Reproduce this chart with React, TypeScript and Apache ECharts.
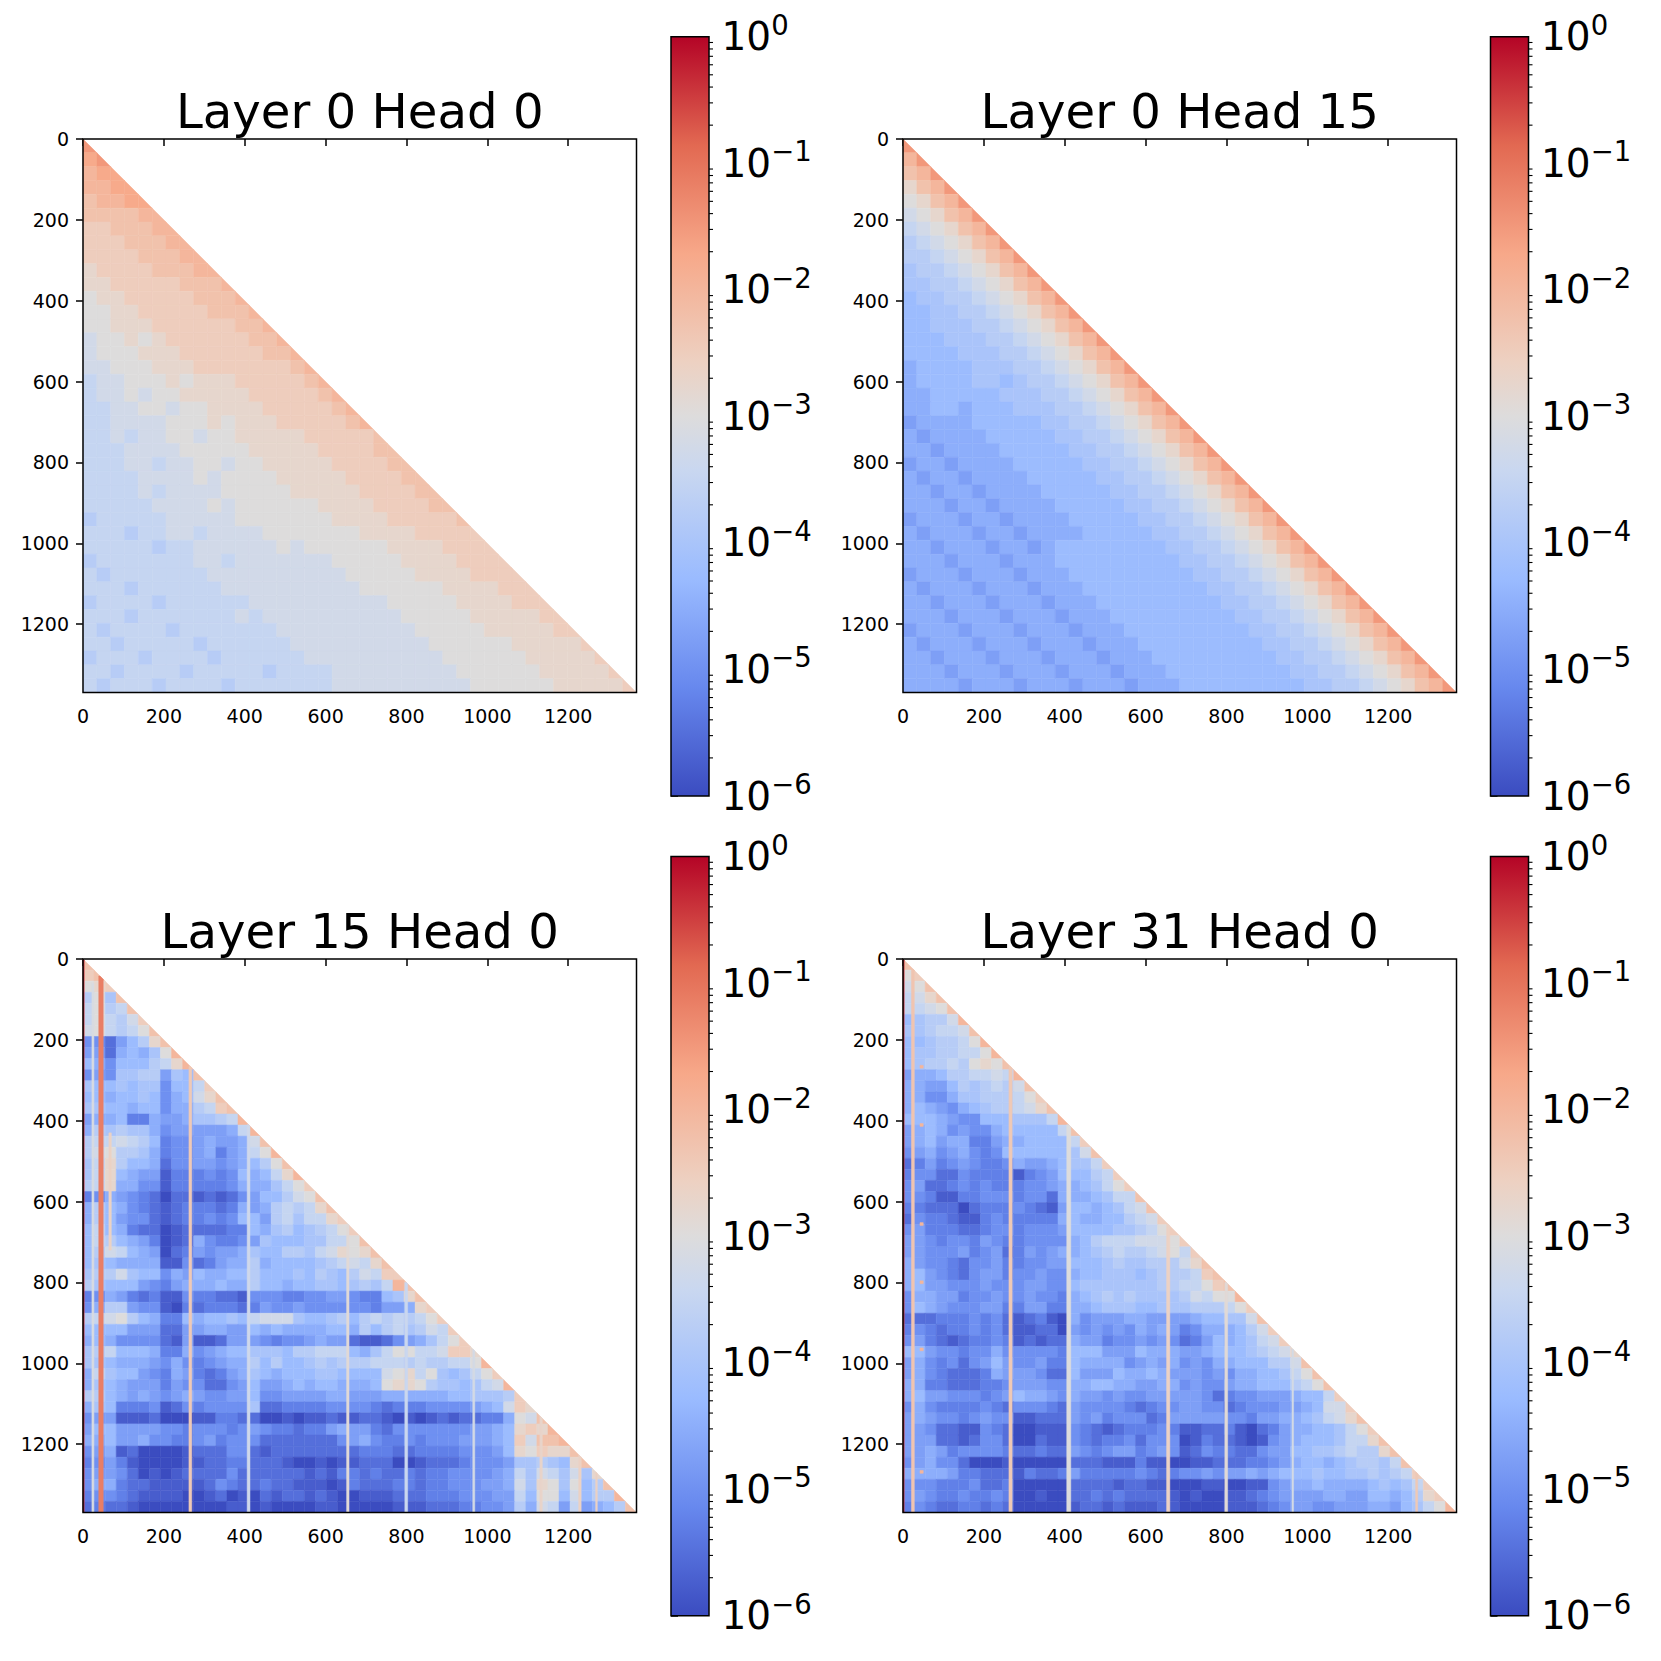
import React, { useEffect, useRef } from "react";
import * as echarts from "echarts";

// Every letter is a log10 level: a = -6, each next letter +0.25 (u = -1).
const LAYER0_HEAD0 = ["s","rs","qrr","qqrr","pqqrr","ppppqq","oopppqq","ooopppqq","oooopppqq","noooopppqq","nnooooopppq","mnnooooopppq","mmnnooooopppq","mmnnnooooooppq","lmmnmnooooooppq","lmmmnnnooooooppq","llmmmnnnooooooopq","kllmmmnmnnnooooopq","kllmlmmnnnnnooooopq","kkllmmlmmnnnnooooopq","kkllllmmmnmnnnooooopq","kklkllmmlmmnnnnnooooop","kkkllllmmmmmnnnnnoooopp","kkkllkllmmlmmnnnnnoooopp","kkkkllllmlmmmmnnnnnoooopp","kkkklkllllmmmmmnnnnnoooopp","kkkkkllllmlmmmmmmnnnnoooopp","jkkkkklllllmmmmmmmnnnnooooop","kkkjkkllkllllmmmmmmmnnnnooooo","kkkkkjkkllllllmlmmmmmmnnnnoooo","jkkkkkkkllklllllllmmmmmnnnnoooo","kjkkkkkkkllllllllllmmmmmnnnnoooo","kkkjkkkkkkllllllllllmmmmmmnnnnooo","jkkkkjkkkkkkllllllllllmmmmmnnnnooo","kkkjkkkkkkklkllllllllllmmmmmnnnnnoo","kjkkkkjkkkkkkkllllllllllmmmmmnnnnnoo","kkjkkkkkjkkkkkkllllllllllmmmmmmnnnnno","jkkkjkkkkjkkkkkkllllllllllmmmmmmnnnnno","kkjkkkkjkkkkkjkkkklllllllllmmmmmmnnnnno","kjkkkjkkkkjkkkkkkkllllllllllmmmmmmnnnnno"];

const LAYER0_HEAD15 = ["s","qs","pqs","npqs","mnpqs","lmnpqs","klmnpqs","jklmnpqs","jjklmnpqs","ijjklmnpqs","iijjklmnpqs","hiijjklmnpqs","hhiijjklmnpqs","hhiiijjklmnpqs","hhhiiijjklmnpqs","hhhhiiijjklmnpqs","ghhhhiiijjklmnpqs","ghhhhiihijjklmnpqs","gghhhhhiiijjklmnpqs","gghhghhhiiijjklmnpqs","fgggghhhhhiijjklmnpqs","gfgggghhhhhiijjklmnpqs","ggfgggghhhhhiijjklmnpqs","fggfgggghhhhhiijjklmnpqs","gfggfgggghhhhhiijjklmnpqs","ggfggfgggghhhhhiijjklmnpqs","gggfggfgggghhhhhiijjklmnpqs","fgggfggfgggghhhhhiijjklmnpqs","gfgggfggfgggghhhhhiijjklmnpqs","ggfgggfggfghhhhhhhhiijjklmnpqs","gggfgggfggghhhhhhhhhiijjklmnpqs","fgggfgggfggghhhhhhhhhiijjklmnpqs","gfgggfgggfggghhhhhhhhhiijjklmnpqs","ggfgggfgggfggghhhhhhhhhiijjklmnpqs","gggfgggfgggfggghhhhhhhhhiijjklmnpqs","fgggfgggfgggfggghhhhhhhhhiijjklmnpqs","gfgggfgggfgggfggghhhhhhhhhiijjklmnpqs","ggfgggfgggfgggfggghhhhhhhhhiijjklmnpqs","gggfgggfgggfgggfggghhhhhhhhhiijjklmnpqs","ggggfgggfgggfgggfggghhhhhhhhhiijjklmnpqs"];

const LAYER15_HEAD0 = ["p","op","mno","jmip","kmjkp","kmkjlo","lmkjkmp","eecfhjnp","ffcghgimq","hgehhhjknq","efeiijjfihp","ihhihiiehhko","hhghhiheghlnp","iihhghheggjkop","fgghddgffgiijkq","gjijiigefffffgkq","jkklkjhdeefgffglp","jlmjjigdeefgdfgkmq","iknjhhgceeffefghjmp","iknhgffbdddedehghknq","jknggeebdddddegggikmo","degfedcaccbcbcefhhjlmp","gjhgedcbcdddcdgfgjkjknp","gjhfeecbcddedehhfjkikkno","hkhgdccabccccddhgijhijkmo","hkjhgfdabcgeddefihhhiikkmp","hjlkhgfacdfeffgihhjjiklnmnp","hihggggbbecdfggjghhhhijklknp","ijjlihhegfhgghhjhhhihjihjlkoo","jihhhfedfggghggjhhghhiihijikqp","degfdcdbbeddccbeeeddeeffeddhinp","egjjfeebadcdddcdfeefeeeeeedffgno","jklmjhgddhghhihklllihhijhjkjkjkmo","hhhhfffccffggffhghgggghhgjhjkijlko","ghgeeeecbfbbcfffedeefgffcbbcefgikmo","ijkhhhgddgefghhiiihjjkkkhgikmmkkloon","iihgggfegedefggjhjhhijijjjkkkjkjjkkmq","gkihhfedgfdcdfgihghhhiihhhhlmnkmihikmo","gihgfffdfeeccefhffghghhggghmnnmjiihiklq","jjhgfgfefgfeeffheeffffggfffgggggghhiiijo","gihdddebcedeeeeiccddddeeeedcdddeeeefghlon","effbbbcaaabbddccaababbcbbccbababcbccddgmlp","fhhffffeedeeedefeddcddfgffdceeeeeeeffghnonq","gghffgeeddefdeeecccccccefgeddedeeefffghjlppq".slice(0,34)+"fffgholppq","efgbcaaaabccceecbccccccccdddccddddeeefhnmonnp","defdbaaaabbccddcccbaababbcccaabcccdeeefiijihnp","effecababcccceccccccbcbddcdccdcddeeeefgkilkilin","eggdccbbbbbcedccdccbbbabdcccddcddeeeffglinmimhjp","deedcbbbbaabcabacbccbcbaabbbcccdddeeeffkhmmhlhjjq","cdccbaaaaaaaabbabaaaabbaaaaabbbcccddeefjglkfkfghjp"];

const LAYER31_HEAD0 = ["p","mo","lmp","klnp","kklmp","hijjlq","iijkklp","hhijjkmq","hiijjkkmq","hijjkjmnmp","fgghjjkklkq","ggffhjijkjlp","ggeegiijjjkmo","ghgfeghijjklnp","hhhgfeehhhiiikq","fghgefeeghhhhhkp","fghfggddfgghhhhko","efgefgedehhhhhhilp","cdfdefeddegffghiiko","deecceddddbdefhhhjko","efccdededddeefgghikmo","eedbbddeeedeecggghikkp","ddcccacdddedcbfhhghiklp","ceddcbbdedddddghgghhjklo","efdddccdeedeeefhhhhiijkmo","ffedeedfeddeeeeghjkkklllmo","ffeeefdefcdfefgghijkjjklmko","gfeedceefddeeffhhhijiijjjlnp","ghfedceffdeefeeghhiiihijjjkop","ghffeeefeeeffeehiiiiiiijjkkmop","eggffdeefeefeedghijijiiiijlkmmq","ehgfeeeffddffddgghiiihhiiijjjkmo","cccdddedecbcdbagefffggffffghhiilp","dedcddedecbbccafefefegfgfdeggghjlo","efdcbcddedbcbccgffdeefefecdfhghiklo","hhfeedeegeeeeedhhhfffhgggffghhhijkln","fgedecefhfeefddhggggefgfgefegghhhjjlp","fgedcccdgfffecchfffhgghgfffefegghhikmp","ggddcccddefffeegghhggffggefeefgghhhjkmp","ghffeeedefhggfegffefeefffffecdeefffghhko","egeddddedceeedcfeeeedcdeeffeecdeeeffghllo","fgfeedefeebbcccfefdeeecdfffffeedffgghiklnp","ffeccbbedcaabbbedcbcdddedbbccdbacdfgghhikmo","fffccbceecaacbbedcddeceeeabdccbabefghhhikknp","ffgfdeeeedccdccfedeffdefebceddcceffhhiijkjjnp","efgeecaaabaaaaacccbbbdbbaabbcccddefghhghijjikp","ggggfddcccbdccdfdddddedcdeefeffgfghhhihhiijijko","eeedddeccdaaaaaccccbccbbaaabbaabbefgghgggghihiko".slice(0,48),"efeddeddedaabaaccdcdccccbabaabbcdeffffggffhhghjno","dedccddcdcaaaaabccbcbbbcbaaaabbbcdeffeefffggfhikmq"];

// Thin columns that stand out: [x from, x to, y from, y to, log10 value]
const LAYER15_STRIPES = [[0,3,0,1369,-0.4],[39,50,42,1369,-1.15],[22,27,60,1369,-3.1],[64,70,430,720,-2.6],[262,269,265,1369,-2.4],[406,413,410,1369,-3.3],[652,658,655,1369,-2.9],[796,803,800,1369,-3.4],[964,969,965,1369,-3.2],[1226,1232,1226,1369,-2.6],[1130,1136,1130,1369,-2.7],[1268,1272,1268,1369,-2.6]];
const LAYER31_STRIPES = [[0,3,0,1369,-0.4],[21,28,25,1369,-2.3],[262,270,265,1369,-2.4],[405,415,410,1369,-3],[652,660,655,1369,-2.6],[796,803,800,1369,-2.9],[962,966,965,1369,-3.2],[1268,1273,1268,1369,-2.4],[42,50,263,270,-2],[42,50,407,414,-2],[42,50,652,659,-2],[42,50,796,803,-2],[42,50,962,969,-2],[42,50,1265,1272,-2]];

const TITLES = ["Layer 0 Head 0", "Layer 0 Head 15", "Layer 15 Head 0", "Layer 31 Head 0"];
const MATRIX_ROWS = [LAYER0_HEAD0, LAYER0_HEAD15, LAYER15_HEAD0, LAYER31_HEAD0];
const MATRIX_STRIPES: number[][][] = [[], [], LAYER15_STRIPES, LAYER31_STRIPES];
const AXIS_TICKS = [0, 200, 400, 600, 800, 1000, 1200];
const EXTENT = 1369;

const CMAP: [number, string][] = [[0,"#3b4cc0"],[0.143,"#6788ee"],[0.286,"#9abbff"],[0.429,"#c9d7f0"],[0.5,"#dddcdc"],[0.571,"#edd1c2"],[0.714,"#f7a889"],[0.857,"#e26952"],[1,"#b40426"]];

const FONT = "DejaVu Sans";
const PANELS = [
  { x: 83, y: 139, cx: 671, cy: 36.7 },
  { x: 903, y: 139, cx: 1490.5, cy: 36.7 },
  { x: 83, y: 959, cx: 671, cy: 856.5 },
  { x: 903, y: 959, cx: 1490.5, cy: 856.5 },
];
const SIZE = 553.5;
const BAR_W = 38;
const BAR_H = 759.3;

function hex(c: string) { return [1, 3, 5].map((i) => parseInt(c.slice(i, i + 2), 16)); }
function colorOf(log: number) {
  const t = Math.min(1, Math.max(0, (log + 6) / 6));
  for (let i = 1; i < CMAP.length; i++) {
    if (t <= CMAP[i][0]) {
      const f = (t - CMAP[i - 1][0]) / (CMAP[i][0] - CMAP[i - 1][0]);
      const a = hex(CMAP[i - 1][1]); const b = hex(CMAP[i][1]);
      return `rgb(${a.map((v, k) => Math.round(v + (b[k] - v) * f)).join(",")})`;
    }
  }
  return CMAP[CMAP.length - 1][1];
}

function cellsOf(rows: string[], stripes: number[][]) {
  const w = EXTENT / rows.length;
  const out: number[][] = [];
  rows.forEach((row, r) => {
    for (let c = 0; c < row.length; c++) {
      const log = -6 + (row.charCodeAt(c) - 97) * 0.25;
      out.push([c * w, r * w, (c + 1) * w, (r + 1) * w, Math.pow(10, log)]);
    }
  });
  stripes.forEach((s) => out.push([s[0], s[2], s[1], s[3], Math.pow(10, s[4])]));
  return out;
}

function renderCell(_: any, api: any) {
  const x0 = api.value(0), y0 = api.value(1), x1 = api.value(2), y1 = api.value(3);
  const xr = Math.min(x1, y1);
  const pts: number[][] = [[x0, Math.max(y0, x0)]];
  if (y0 > x0) pts.push([Math.min(x1, y0), y0]);
  pts.push([xr, Math.max(y0, xr)], [xr, y1], [x0, y1]);
  const col = colorOf(Math.log10(api.value(4)));
  return { type: "polygon", shape: { points: pts.map((p) => api.coord(p)) }, style: { fill: col, stroke: col, lineWidth: 0.5 } };
}

function frame(gridIndex: number, a: number[]) {
  return {
    type: "custom", xAxisIndex: gridIndex, yAxisIndex: gridIndex, z: 10, silent: true, data: [a],
    renderItem: (_: any, api: any) => {
      const p0 = api.coord([api.value(0), api.value(1)]);
      const p1 = api.coord([api.value(2), api.value(3)]);
      return { type: "rect", shape: { x: Math.min(p0[0], p1[0]), y: Math.min(p0[1], p1[1]), width: Math.abs(p1[0] - p0[0]), height: Math.abs(p1[1] - p0[1]) }, style: { fill: "none", stroke: "#000", lineWidth: 1.5 } };
    },
  };
}

const MINOR_TICKS: number[] = [];
for (let e = -6; e < 0; e++) for (let m = 2; m <= 9; m++) MINOR_TICKS.push(m * Math.pow(10, e));

function buildOption() {
  const grid: any[] = [], xAxis: any[] = [], yAxis: any[] = [], series: any[] = [], title: any[] = [];
  const tickText = { color: "#000", fontFamily: FONT, fontSize: 19, margin: 14, formatter: (v: number) => String(v) };
  const tick = { show: true, length: 7, lineStyle: { color: "#000", width: 1.5 } };
  PANELS.forEach((p, i) => {
    const gi = grid.length;
    grid.push({ left: p.x, top: p.y, width: SIZE, height: SIZE, containLabel: false });
    xAxis.push({ gridIndex: gi, type: "value", min: 0, max: EXTENT, position: "bottom", splitLine: { show: false }, axisLine: { show: false },
      axisTick: { ...tick, customValues: AXIS_TICKS }, axisLabel: { ...tickText, customValues: AXIS_TICKS } });
    yAxis.push({ gridIndex: gi, type: "value", min: 0, max: EXTENT, inverse: true, position: "left", splitLine: { show: false }, axisLine: { show: false },
      axisTick: { ...tick, customValues: AXIS_TICKS }, axisLabel: { ...tickText, customValues: AXIS_TICKS } });
    series.push({ type: "custom", xAxisIndex: gi, yAxisIndex: gi, silent: true, progressive: 0, encode: { x: [0, 2], y: [1, 3] }, data: cellsOf(MATRIX_ROWS[i], MATRIX_STRIPES[i]), renderItem: renderCell });
    series.push(frame(gi, [0, 0, EXTENT, EXTENT]));
    title.push({ text: TITLES[i], left: p.x + SIZE / 2, top: p.y - 52, textAlign: "center", padding: 0, textStyle: { color: "#000", fontFamily: FONT, fontSize: 48.2, fontWeight: "normal" } });

    const bi = grid.length;
    grid.push({ left: p.cx, top: p.cy, width: BAR_W, height: BAR_H });
    xAxis.push({ gridIndex: bi, type: "value", min: 0, max: 1, show: false });
    yAxis.push({ gridIndex: bi, type: "log", logBase: 10, min: 1e-6, max: 1, position: "right", splitNumber: 6, splitLine: { show: false }, axisLine: { show: false }, axisTick: tick,
      axisLabel: { margin: 12.5, color: "#000", fontFamily: FONT,
        formatter: (v: number) => `{b|10}{s|${Math.round(Math.log10(v)).toString().replace("-", "\u2212")}}`,
        rich: { b: { fontFamily: FONT, fontSize: 39, color: "#000" }, s: { fontFamily: FONT, fontSize: 27.5, color: "#000", padding: [0, 0, 24, 0] } } } });
    series.push({ type: "custom", xAxisIndex: bi, yAxisIndex: bi, silent: true, data: [[0, 1e-6, 1, 1]],
      renderItem: (_: any, api: any) => {
        const a = api.coord([0, 1]); const b = api.coord([1, 1e-6]);
        return { type: "rect", shape: { x: a[0], y: a[1], width: b[0] - a[0], height: b[1] - a[1] },
          style: { fill: new echarts.graphic.LinearGradient(0, 1, 0, 0, CMAP.map(([offset, color]) => ({ offset, color }))) } };
      } });
    series.push({ type: "custom", xAxisIndex: bi, yAxisIndex: bi, silent: true, z: 9, data: MINOR_TICKS.map((v) => [1, v]), clip: false,
      renderItem: (_: any, api: any) => {
        const c = api.coord([1, api.value(1)]);
        return { type: "line", shape: { x1: c[0], y1: c[1], x2: c[0] + 4, y2: c[1] }, style: { stroke: "#000", lineWidth: 1.1 } };
      } });
    series.push(frame(bi, [0, 1e-6, 1, 1]));
  });
  return { animation: false, backgroundColor: "#fff", title, grid, xAxis, yAxis, series };
}

export default function App() {
  const ref = useRef<HTMLDivElement>(null);
  useEffect(() => {
    document.body.style.margin = "0";
    const chart = echarts.init(ref.current!, undefined, { renderer: "svg" });
    chart.setOption(buildOption() as any);
    return () => chart.dispose();
  }, []);
  return <div ref={ref} style={{ width: 1661, height: 1661, position: "absolute", left: 0, top: 0 }} />;
}
